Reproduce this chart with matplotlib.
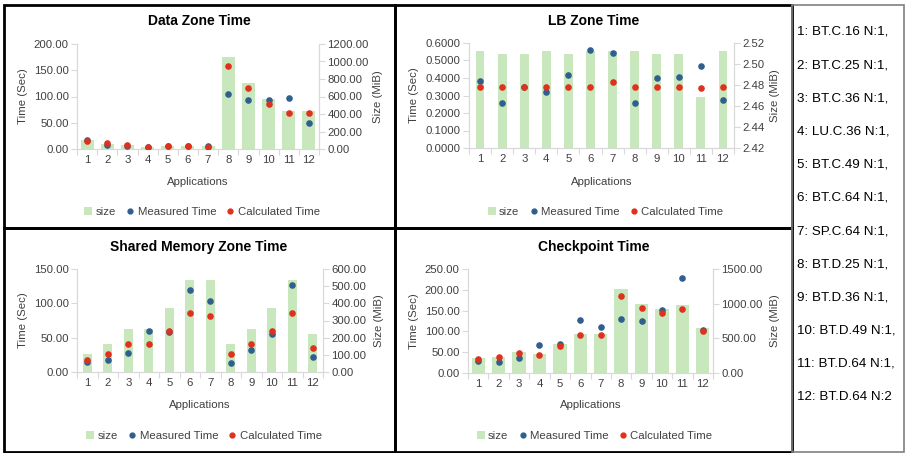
import matplotlib
matplotlib.use('Agg')
import matplotlib.pyplot as plt
from matplotlib.patches import Rectangle, Patch
from matplotlib.lines import Line2D
from matplotlib.ticker import FormatStrFormatter, MultipleLocator

plt.rcParams['font.family'] = ['Liberation Sans', 'DejaVu Sans']

# Цвета
GREEN = '#C9E7BC'
BLUE = '#2F5F8F'
RED = '#E0301E'
AXIS = '#D9D9D9'
LABEL = '#404040'

apps = list(range(1, 13))
app_names = ['1: BT.C.16 N:1,', '2: BT.C.25 N:1,', '3: BT.C.36 N:1,', '4: LU.C.36 N:1,',
             '5: BT.C.49 N:1,', '6: BT.C.64 N:1,', '7: SP.C.64 N:1,', '8: BT.D.25 N:1,',
             '9: BT.D.36 N:1,', '10: BT.D.49 N:1,', '11: BT.D.64 N:1,', '12: BT.D.64 N:2']

# Data Zone
data_size = [103, 57, 45, 25, 38, 38, 35, 1055, 750, 571, 438, 438]
data_meas = [17, 7, 5.7, 3, 6, 5.7, 6, 104, 93, 94, 98, 49]
data_calc = [15, 11.4, 8, 3, 6, 6, 3, 159, 116, 85, 68, 68]

# LB Zone
lb_size = [2.512, 2.510, 2.510, 2.512, 2.510, 2.512, 2.512, 2.512, 2.510, 2.510, 2.469, 2.512]
lb_meas = [0.385, 0.260, 0.347, 0.321, 0.418, 0.558, 0.541, 0.260, 0.401, 0.404, 0.471, 0.275]
lb_calc = [0.346, 0.346, 0.346, 0.346, 0.346, 0.346, 0.378, 0.346, 0.346, 0.346, 0.342, 0.346]

# Shared Memory Zone
shm_size = [106, 163, 251, 249, 371, 534, 534, 163, 251, 371, 534, 219]
shm_meas = [14.4, 16.8, 27.8, 59, 58.6, 119, 103, 13, 32.6, 55.2, 126, 22.5]
shm_calc = [18.2, 26.9, 40.8, 40.8, 60, 86.5, 81.7, 26.9, 40.8, 60, 86.5, 35]

# Checkpoint
ck_size = [216, 231, 298, 272, 423, 567, 567, 1207, 995, 928, 976, 649]
ck_meas = [29, 27, 35, 68, 70.5, 127, 110, 130, 126, 151, 229, 104]
ck_calc = [33, 38, 49, 43, 65, 90.5, 90.5, 184, 156, 145, 154, 101]

W, H = 907, 453
fig = plt.figure(figsize=(W / 100, H / 100), dpi=100)


def fx(px):
    return px / W


def fy(py):
    return 1 - py / H


def panel(rect, title, title_xy, size, meas, calc, tlim, tstep, tfmt, slim, sstep, sfmt,
          bar_w, tlab_x, slab_x, app_y, leg_y):
    x0, y0, x1, y1 = rect
    ax = fig.add_axes([fx(x0), fy(y1), fx(x1 - x0), (y1 - y0) / H])
    ax2 = ax.twinx()
    ax2.bar(apps, size, width=bar_w, color=GREEN, zorder=1)
    ax.scatter(apps, meas, s=14, color=BLUE, zorder=3)
    ax.scatter(apps, calc, s=14, color=RED, zorder=4)
    ax.set_zorder(ax2.get_zorder() + 1)
    ax.patch.set_visible(False)

    ax.set_xlim(0.5, 12.5)
    ax.set_ylim(*tlim)
    ax2.set_ylim(*slim)
    ax.yaxis.set_major_locator(MultipleLocator(tstep))
    ax2.yaxis.set_major_locator(MultipleLocator(sstep))
    ax.yaxis.set_major_formatter(FormatStrFormatter(tfmt))
    ax2.yaxis.set_major_formatter(FormatStrFormatter(sfmt))
    ax.set_xticks(apps)
    ax.set_xticks([i + 0.5 for i in range(0, 13)], minor=True)

    for a in (ax, ax2):
        for s in a.spines.values():
            s.set_color(AXIS)
            s.set_linewidth(0.8)
        a.spines['top'].set_visible(False)
        a.tick_params(axis='y', colors=AXIS, labelcolor=LABEL, labelsize=8.2, length=4, width=0.8, pad=2)
    ax.tick_params(axis='x', which='major', length=0, labelsize=8.2, labelcolor=LABEL, pad=4)
    ax.tick_params(axis='x', which='minor', length=4, color=AXIS, width=0.8)

    fig.text(fx(title_xy[0]), fy(title_xy[1]), title, ha='center', va='center',
             fontsize=10, fontweight='bold', color='black')
    fig.text(fx(tlab_x), fy((y0 + y1) / 2), 'Time (Sec)', rotation=90, ha='center',
             va='center', fontsize=8.2, color=LABEL)
    fig.text(fx(slab_x), fy((y0 + y1) / 2), 'Size (MiB)', rotation=90, ha='center',
             va='center', fontsize=8.2, color=LABEL)
    fig.text(fx((x0 + x1) / 2), fy(app_y), 'Applications', ha='center', va='center',
             fontsize=8.2, color=LABEL)

    handles = [Patch(facecolor=GREEN, edgecolor='none'),
               Line2D([], [], marker='o', ls='none', color=BLUE, markersize=3.5),
               Line2D([], [], marker='o', ls='none', color=RED, markersize=3.5)]
    fig.legend(handles, ['size', 'Measured Time', 'Calculated Time'], loc='center',
               bbox_to_anchor=(fx((x0 + x1) / 2 + 4), fy(leg_y)), ncol=3, frameon=False,
               fontsize=8.2, handlelength=0.7, handletextpad=0.3, columnspacing=0.9,
               labelcolor=LABEL, borderpad=0)


panel((77, 44, 319, 149), 'Data Zone Time', (199, 21), data_size, data_meas, data_calc,
      (0, 200), 50, '%.2f', (0, 1200), 200, '%.2f', 0.65, 23, 378, 182, 212)
panel((469, 43, 734, 148), 'LB Zone Time', (594, 21), lb_size, lb_meas, lb_calc,
      (0, 0.6), 0.1, '%.4f', (2.42, 2.52), 0.02, '%.2f', 0.4, 414, 775, 182, 212)
panel((77, 269, 323, 372), 'Shared Memory Zone Time', (199, 247), shm_size, shm_meas, shm_calc,
      (0, 150), 50, '%.2f', (0, 600), 100, '%.2f', 0.45, 23, 379, 405, 436)
panel((468, 269, 713, 373), 'Checkpoint Time', (594, 247), ck_size, ck_meas, ck_calc,
      (0, 250), 50, '%.2f', (0, 1500), 500, '%.2f', 0.65, 414, 775, 405, 436)

# Рамки панелей
for (x0, y0, x1, y1) in [(4, 5, 395, 228), (395, 5, 792, 228),
                         (4, 228, 395, 452), (395, 228, 792, 452)]:
    fig.add_artist(Rectangle((fx(x0), fy(y1)), fx(x1 - x0), (y1 - y0) / H,
                             transform=fig.transFigure, fill=False, edgecolor='black', lw=2))
fig.add_artist(Rectangle((fx(792), fy(452)), fx(904 - 792), (452 - 5) / H,
                         transform=fig.transFigure, fill=False, edgecolor='#808080', lw=1.2))

# Список приложений
for i, name in enumerate(app_names):
    fig.text(fx(797), fy(32 + i * 33.2), name, ha='left', va='center', fontsize=9.6, color='black')

fig.savefig('out.png', dpi=100, facecolor='white')
